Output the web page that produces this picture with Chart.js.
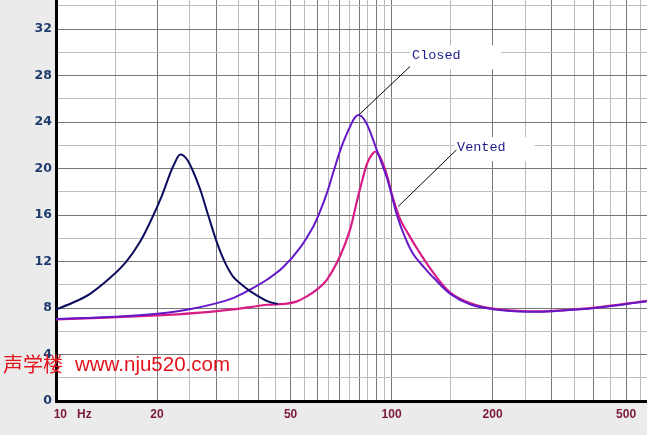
<!DOCTYPE html>
<html>
<head>
<meta charset="utf-8">
<script src="https://cdn.jsdelivr.net/npm/chart.js@4.4.1/dist/chart.umd.min.js"></script>
<style>
  html, body { margin: 0; padding: 0; background: #ebebeb; }
  canvas { display: block; }
</style>
</head>
<body>
<canvas id="impedance" width="647" height="435"></canvas>
<script>
// impedance curves: frequency in Hz, impedance in ohm
const closedFreq = [10, 15, 20, 25, 30, 34, 38, 42.6, 47.5, 53.4, 58.4, 61, 64.2, 66.9, 71, 75.2, 77.8, 80, 83, 86.5, 90.6, 97.2, 104, 110, 116.3, 125, 133.4, 150, 172, 203, 254, 303, 410, 577];
const closedOhm  = [7.05, 7.25, 7.5, 7.9, 8.4, 8.9, 9.6, 10.45, 11.5, 13.2, 15.0, 16.2, 17.9, 19.6, 21.9, 23.6, 24.4, 24.6, 24.2, 23.1, 21.5, 19.05, 15.9, 14.0, 12.6, 11.5, 10.6, 9.2, 8.3, 7.88, 7.68, 7.73, 8.02, 8.59];

const ventedFreq = [10, 20, 26.9, 33.7, 37.9, 42.6, 48.1, 52, 55.9, 60, 64.2, 70.2, 75.2, 79, 82, 85.3, 90, 95.7, 100.6, 106.2, 112, 119.2, 133.4, 150, 172, 203, 254, 303, 410, 577];
const ventedOhm  = [7.02, 7.36, 7.6, 7.88, 8.08, 8.28, 8.35, 8.55, 9.0, 9.6, 10.45, 12.46, 14.75, 17.3, 19.1, 20.7, 21.45, 19.9, 17.6, 15.6, 14.4, 13.1, 11.0, 9.3, 8.4, 7.92, 7.72, 7.76, 8.05, 8.62];

const ventedLowFreq = [10, 11.2, 12.6, 14.5, 16.2, 17.8, 19.3, 20.7, 21.9, 22.6, 23.4, 24.4, 25.4, 26.9, 28.4, 30.2, 31.9, 33.7, 35.8, 37.9, 42.6, 45.8];
const ventedLowOhm  = [7.88, 8.45, 9.2, 10.6, 12.0, 13.7, 15.7, 17.7, 19.6, 20.5, 21.2, 20.9, 20.0, 18.2, 16.0, 13.6, 11.9, 10.7, 10.0, 9.45, 8.59, 8.35];

// grid / tick positions
const freqTicks = [10, 15, 20, 25, 30, 35, 40, 45, 50, 55, 60, 65, 70, 75, 80, 85, 90, 95, 100,
                   150, 200, 250, 300, 350, 400, 450, 500, 550];
const freqMajor = [10, 20, 30, 40, 50, 60, 70, 80, 90, 100, 200, 300, 400, 500];
const freqLabels = { 10: '          10   Hz', 20: '20', 50: '50', 100: '100', 200: '200', 500: '500' };
const ohmTicks = [0, 2, 4, 6, 8, 10, 12, 14, 16, 18, 20, 22, 24, 26, 28, 30, 32, 34];

// callouts: text anchor and leader line, in Hz / ohm
const notes = [
  { text: 'Closed', at: [115.1, 29.4], from: [113.5, 28.78], to: [80, 24.63], boxRight: 42 },
  { text: 'Vented', at: [156.7, 21.5], from: [156, 21.6], to: [104.6, 16.73], boxRight: 31 }
];

const toPoints = (xs, ys) => xs.map((x, i) => ({ x: x, y: ys[i] }));

const backdrop = {
  id: 'backdrop',
  beforeDraw(chart) {
    const { ctx, chartArea: a } = chart;
    ctx.save();
    ctx.fillStyle = '#ebebeb';
    ctx.fillRect(0, 0, chart.width, chart.height);
    ctx.fillStyle = '#ffffff';
    ctx.fillRect(a.left, a.top, a.right - a.left, a.bottom - a.top);
    ctx.restore();
  }
};

const callouts = {
  id: 'callouts',
  afterDatasetsDraw(chart) {
    const { ctx, scales: { x, y } } = chart;
    ctx.save();
    ctx.font = '13.5px "Liberation Mono", "DejaVu Sans Mono", monospace';
    notes.forEach(n => {
      const tx = x.getPixelForValue(n.at[0]);
      const ty = y.getPixelForValue(n.at[1]);
      const w = ctx.measureText(n.text).width;
      ctx.fillStyle = '#ffffff';
      ctx.fillRect(tx - 2, ty - 14, w + n.boxRight, 24);
      ctx.strokeStyle = '#000000';
      ctx.lineWidth = 1;
      ctx.beginPath();
      ctx.moveTo(x.getPixelForValue(n.from[0]), y.getPixelForValue(n.from[1]));
      ctx.lineTo(x.getPixelForValue(n.to[0]), y.getPixelForValue(n.to[1]));
      ctx.stroke();
      ctx.fillStyle = '#1c1c8c';
      ctx.textBaseline = 'alphabetic';
      ctx.fillText(n.text, tx, ty);
    });
    ctx.restore();
  },
  afterDraw(chart) {
    const ctx = chart.ctx;
    ctx.save();
    ctx.fillStyle = '#e3131b';
    ctx.textBaseline = 'alphabetic';
    ctx.font = '20px "Noto Sans CJK SC", sans-serif';
    ctx.fillText('声学楼', 3, 372);
    ctx.font = '20.5px "Liberation Sans", Arial, sans-serif';
    ctx.fillText('www.nju520.com', 75, 371);
    ctx.restore();
  }
};

new Chart(document.getElementById('impedance'), {
  type: 'line',
  data: {
    datasets: [
      {
        label: 'Vented (low)',
        data: toPoints(ventedLowFreq, ventedLowOhm),
        borderColor: '#0c0c5e',
        borderWidth: 2
      },
      {
        label: 'Closed',
        data: toPoints(closedFreq, closedOhm),
        borderColor: '#6418c8',
        borderWidth: 2
      },
      {
        label: 'Vented',
        data: toPoints(ventedFreq, ventedOhm),
        borderColor: '#d81c86',
        borderWidth: 2.2
      }
    ]
  },
  options: {
    responsive: false,
    animation: false,
    devicePixelRatio: 1,
    layout: { padding: 0 },
    elements: {
      point: { radius: 0 },
      line: { tension: 0.35, fill: false }
    },
    plugins: {
      legend: { display: false },
      tooltip: { enabled: false }
    },
    scales: {
      x: {
        type: 'logarithmic',
        min: 10,
        max: 577,
        afterFit: s => { s.height = 34; s.paddingLeft = 0; s.paddingRight = 0; },
        afterBuildTicks: s => { s.ticks = freqTicks.map(v => ({ value: v })); },
        grid: {
          drawTicks: false,
          color: c => freqMajor.includes(c.tick && c.tick.value) ? '#777777' : '#bdbdbd'
        },
        border: { color: '#000000', width: 3 },
        ticks: {
          autoSkip: false,
          maxRotation: 0,
          padding: 6,
          color: '#7a1838',
          font: { family: '"Liberation Sans", Arial, sans-serif', size: 12, weight: 'bold' },
          callback: v => freqLabels[v] || ''
        }
      },
      y: {
        min: 0,
        max: 34.5,
        afterFit: s => { s.width = 56; s.paddingTop = 0; s.paddingBottom = 0; },
        afterBuildTicks: s => { s.ticks = ohmTicks.map(v => ({ value: v })); },
        grid: {
          drawTicks: false,
          color: c => (c.tick && c.tick.value % 4 === 0) ? '#777777' : '#bdbdbd'
        },
        border: { color: '#000000', width: 3 },
        ticks: {
          padding: 4,
          color: '#1f3c6c',
          font: { family: '"DejaVu Sans", Verdana, sans-serif', size: 12.5, weight: 'bold' },
          callback: v => (v % 4 === 0 ? String(v) : '')
        }
      }
    }
  },
  plugins: [backdrop, callouts]
});
</script>
</body>
</html>
